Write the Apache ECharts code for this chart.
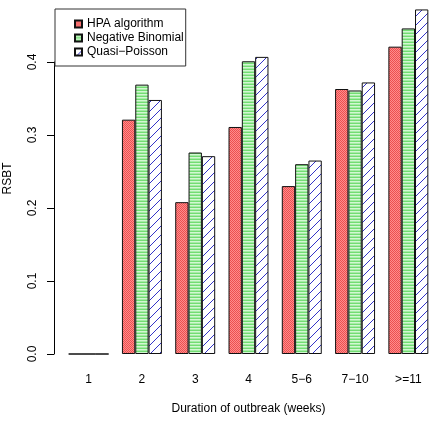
<!DOCTYPE html>
<html>
<head>
<meta charset="utf-8">
<script src="https://cdn.jsdelivr.net/npm/echarts@6/dist/echarts.min.js"></script>
<style>
  html, body { margin: 0; padding: 0; background: #fff; }
  #chart { width: 435px; height: 423px; }
</style>
</head>
<body>
<div id="chart"></div>
<script>
var categories = ['1', '2', '3', '4', '5\u22126', '7\u221210', '>=11'];
var hpaValues = [0, 0.321, 0.208, 0.311, 0.230, 0.363, 0.421];
var negBinValues = [0, 0.369, 0.276, 0.401, 0.260, 0.361, 0.446];
var quasiValues = [0, 0.348, 0.271, 0.407, 0.265, 0.372, 0.472];
var yTicks = [0, 0.1, 0.2, 0.3, 0.4];

// hatch-like fills, R density style
function makePattern(w, h, draw) {
    var c = document.createElement('canvas');
    c.width = w; c.height = h;
    draw(c.getContext('2d'));
    return { image: c, repeat: 'repeat' };
}
var redFill = makePattern(2, 2, function (ctx) {
    ctx.fillStyle = '#ff8c8c'; ctx.fillRect(0, 0, 2, 2);
    ctx.fillStyle = '#ec5050'; ctx.fillRect(0, 0, 1, 1); ctx.fillRect(1, 1, 1, 1);
});
var greenFill = makePattern(1, 3, function (ctx) {
    ctx.fillStyle = '#72dd72'; ctx.fillRect(0, 0, 1, 1);
    ctx.fillStyle = '#d2f7d2'; ctx.fillRect(0, 1, 1, 1);
    ctx.fillStyle = '#a6eba6'; ctx.fillRect(0, 2, 1, 1);
});
var blueFill = makePattern(9, 9, function (ctx) {
    ctx.fillStyle = '#ffffff'; ctx.fillRect(0, 0, 9, 9);
    ctx.strokeStyle = '#3434c8'; ctx.lineWidth = 1;
    ctx.beginPath();
    ctx.moveTo(-1, 10); ctx.lineTo(10, -1);
    ctx.stroke();
});

var font = 'Liberation Sans, Arial, Helvetica, sans-serif';
var chart = echarts.init(document.getElementById('chart'));

function barSeries(name, data, fill) {
    return {
        name: name,
        type: 'bar',
        data: data,
        clip: false,
        barGap: '0%',
        barCategoryGap: '25%',
        itemStyle: { color: fill, borderColor: '#111', borderWidth: 1 },
        emphasis: { disabled: true }
    };
}

chart.setOption({
    animation: false,
    backgroundColor: '#fff',
    grid: { left: 62, top: 62, width: 378, height: 292 },
    legend: {
        left: 55, top: 9,
        orient: 'vertical',
        padding: [8, 2, 7, 19],
        itemGap: 0,
        itemWidth: 7,
        itemHeight: 7,
        icon: 'rect',
        backgroundColor: '#fff',
        borderColor: '#333',
        borderWidth: 1,
        borderRadius: 0,
        selectedMode: false,
        textStyle: { fontFamily: font, fontSize: 12, color: '#000', lineHeight: 14 },
        data: ['HPA algorithm', 'Negative Binomial', 'Quasi\u2212Poisson']
    },
    xAxis: {
        type: 'category',
        data: categories,
        axisLine: { show: false },
        axisTick: { show: false },
        axisLabel: { margin: 20, fontFamily: font, fontSize: 12, color: '#000' },
        name: 'Duration of outbreak (weeks)',
        nameLocation: 'middle',
        nameGap: 49,
        nameTextStyle: { fontFamily: font, fontSize: 12, color: '#000' }
    },
    yAxis: {
        type: 'value',
        min: yTicks[0],
        max: yTicks[yTicks.length - 1],
        interval: 0.1,
        offset: 8,
        splitLine: { show: false },
        axisLine: { show: true, lineStyle: { color: '#000', width: 1 } },
        axisTick: { show: true, length: 7, lineStyle: { color: '#000' } },
        axisLabel: {
            rotate: 90, margin: 15,
            fontFamily: font, fontSize: 12, color: '#000',
            formatter: function (v) { return v.toFixed(1); }
        }
    },
    graphic: [{
        type: 'text',
        x: 8, y: 178.5,
        rotation: Math.PI / 2,
        style: {
            text: 'RSBT', fontFamily: font, fontSize: 12, fill: '#000',
            align: 'center', verticalAlign: 'middle'
        }
    }],
    series: [
        barSeries('HPA algorithm', hpaValues, redFill),
        barSeries('Negative Binomial', negBinValues, greenFill),
        barSeries('Quasi\u2212Poisson', quasiValues, blueFill)
    ]
});
</script>
</body>
</html>
